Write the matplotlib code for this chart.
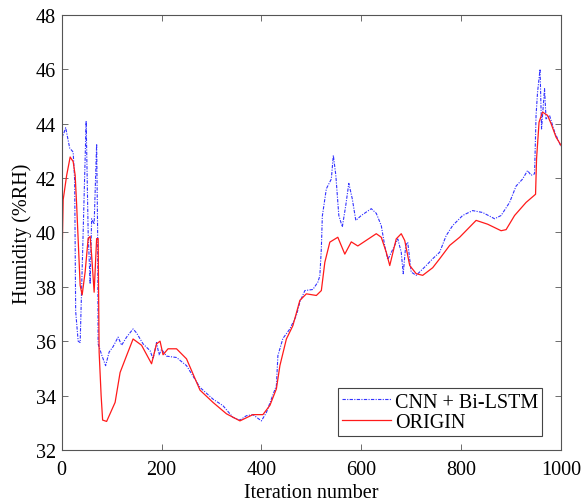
import numpy as np
import matplotlib
matplotlib.use('Agg')
import matplotlib.pyplot as plt

# ─────────────────────────────────────────────
# Data
# ─────────────────────────────────────────────
pred_iter = [0, 8, 16, 23, 26, 28, 33, 37, 43, 49, 53, 57, 60, 65, 70, 72, 73,
             80, 88, 95, 103, 113, 120, 130, 143, 150, 163, 177, 183, 190, 195,
             200, 210, 230, 250, 277, 303, 323, 343, 357, 370, 383, 400, 410,
             430, 433, 443, 457, 470, 477, 487, 503, 513, 517, 520, 522, 530,
             540, 544, 549, 555, 562, 569, 575, 582, 589, 600, 620, 630, 640,
             647, 653, 663, 673, 680, 684, 689, 693, 700, 710, 730, 743, 757,
             770, 783, 803, 823, 843, 867, 880, 897, 910, 923, 933, 940, 947,
             950, 953, 958, 961, 967, 970, 977, 987, 1000]
pred_hum = [43.4, 43.85, 43.1, 42.95, 41.9, 37.1, 36.0, 35.95, 40.0, 44.1, 40.0,
            38.1, 40.5, 40.3, 43.25, 40.0, 35.9, 35.5, 35.1, 35.6, 35.8, 36.15,
            35.85, 36.15, 36.45, 36.3, 35.9, 35.65, 35.35, 35.95, 35.5, 35.7,
            35.45, 35.4, 35.1, 34.3, 33.87, 33.63, 33.2, 33.1, 33.26, 33.3,
            33.07, 33.38, 34.37, 35.47, 36.1, 36.45, 36.94, 37.44, 37.86, 37.9,
            38.17, 38.4, 39.4, 40.6, 41.6, 41.96, 42.83, 42.1, 40.62, 40.2,
            41.0, 41.8, 41.23, 40.44, 40.62, 40.87, 40.7, 40.25, 39.5, 39.0,
            39.37, 39.76, 39.27, 38.48, 39.52, 39.64, 38.54, 38.42, 38.78,
            39.03, 39.27, 39.88, 40.25, 40.62, 40.8, 40.73, 40.5, 40.62, 41.1,
            41.7, 41.96, 42.27, 42.1, 42.15, 44.3, 45.15, 46.0, 43.8, 45.28,
            44.17, 44.3, 43.7, 43.15]

orig_iter = [0, 3, 10, 17, 23, 27, 30, 37, 41, 47, 53, 57, 60, 65, 70, 73, 75,
             79, 82, 90, 107, 117, 130, 143, 160, 180, 190, 197, 203, 213, 230,
             250, 277, 303, 330, 357, 383, 403, 417, 430, 437, 450, 463, 477,
             490, 510, 520, 527, 537, 553, 567, 580, 593, 630, 640, 650, 657,
             670, 680, 687, 697, 710, 723, 743, 757, 777, 797, 830, 853, 880,
             890, 907, 930, 949, 951, 956, 963, 973, 980, 990, 1000]
orig_hum = [38.3, 41.2, 42.1, 42.77, 42.6, 42.1, 41.0, 38.05, 37.7, 38.55, 39.77,
            39.85, 39.15, 37.8, 39.77, 39.77, 35.6, 34.0, 33.1, 33.05, 33.75,
            34.85, 35.47, 36.08, 35.85, 35.17, 35.9, 36.0, 35.5, 35.72, 35.72,
            35.35, 34.2, 33.75, 33.33, 33.07, 33.3, 33.3, 33.64, 34.25, 35.1,
            36.08, 36.57, 37.5, 37.74, 37.68, 37.86, 38.9, 39.64, 39.82, 39.2,
            39.65, 39.5, 39.95, 39.82, 39.27, 38.78, 39.76, 39.95, 39.7, 38.78,
            38.48, 38.42, 38.7, 39.03, 39.52, 39.82, 40.44, 40.3, 40.06, 40.1,
            40.62, 41.1, 41.4, 42.7, 44.05, 44.42, 44.3, 44.0, 43.5, 43.2]

x_ticks = [0, 200, 400, 600, 800, 1000]
y_ticks = [32, 34, 36, 38, 40, 42, 44, 46, 48]

plt.rcParams['font.family'] = ['Liberation Serif', 'DejaVu Serif']
FS = 14.5

fig = plt.figure(figsize=(5.83, 5.02), dpi=100)
ax = fig.add_axes([0.1058, 0.1016, 0.8565, 0.8671])

ax.plot(pred_iter, pred_hum, color='#3333ff', linestyle=(0, (3, 1.2, 1, 1.2)),
        linewidth=0.8, label='CNN + Bi-LSTM')
ax.plot(orig_iter, orig_hum, color='#ff1a1a', linestyle='-', linewidth=0.9,
        label='ORIGIN')

ax.set_xlim(0, 1000)
ax.set_ylim(32, 48)
ax.set_xticks(x_ticks)
ax.set_yticks(y_ticks)
ax.tick_params(axis='both', direction='in', top=True, right=True, labelsize=FS,
               length=4, width=0.6, color='#555555')
ax.tick_params(axis='x', pad=7)
ax.tick_params(axis='y', pad=4)
for spine in ax.spines.values():
    spine.set_edgecolor('#555555')
    spine.set_linewidth(0.8)

ax.set_xlabel('Iteration number', fontsize=FS, labelpad=3)
ax.set_ylabel('Humidity (%RH)', fontsize=FS, labelpad=3)

leg = ax.legend(loc='lower right', bbox_to_anchor=(0.962, 0.033), fontsize=FS,
                fancybox=False, framealpha=1, edgecolor='#444444',
                handlelength=2.4, handletextpad=0.2, borderpad=0.2,
                labelspacing=0.05, borderaxespad=0)
leg.get_frame().set_linewidth(0.8)

plt.savefig('out.png', dpi=100)
plt.close()
